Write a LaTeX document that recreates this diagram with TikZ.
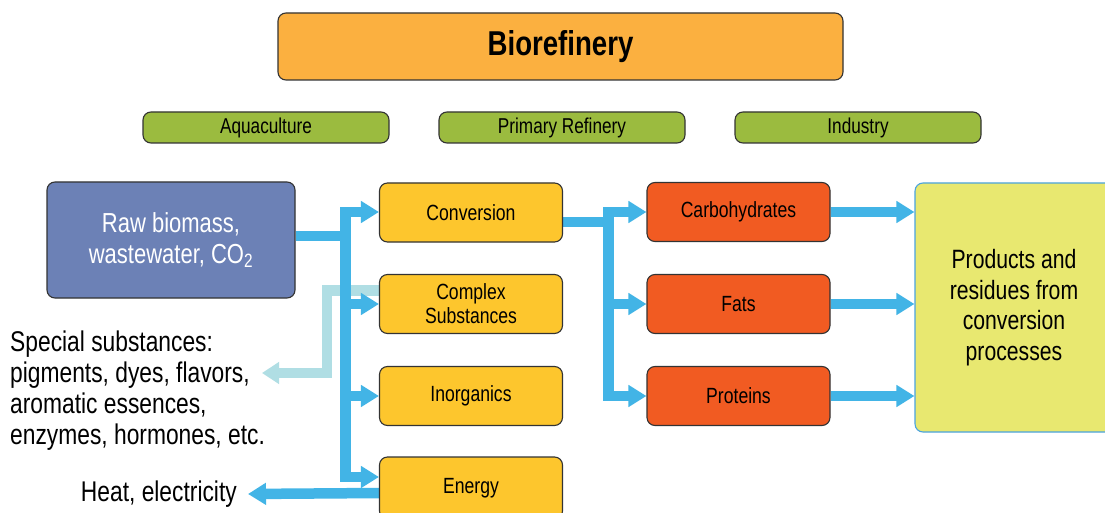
\documentclass[tikz,border=0pt]{standalone}
\usepackage{fontspec}
\setmainfont{Liberation Sans}[FakeStretch=0.8]
\usetikzlibrary{arrows.meta}
\pgfdeclarelayer{bg}
\pgfsetlayers{bg,main}
\definecolor{cbio}{HTML}{FBB040}
\definecolor{cgreen}{HTML}{9BBB3F}
\definecolor{craw}{HTML}{6C81B6}
\definecolor{cyel}{HTML}{FDC62D}
\definecolor{cred}{HTML}{F15B22}
\definecolor{cprod}{HTML}{E8E870}
\definecolor{cprodb}{HTML}{4AA3DF}
\definecolor{cflow}{HTML}{42B4E6}
\definecolor{clight}{HTML}{B0DEE4}
\definecolor{cedge}{HTML}{333333}
\tikzset{
  box/.style={draw=cedge, line width=1.1pt, rounded corners=8pt, inner sep=0pt, align=center, text=black},
  biobox/.style={box, fill=cbio, minimum width=565pt, minimum height=67pt, font=\fontsize{34.5}{40}\selectfont\bfseries},
  greenbox/.style={box, fill=cgreen, minimum width=246pt, minimum height=31pt, font=\fontsize{21.5}{25}\selectfont},
  yelbox/.style={box, fill=cyel, minimum width=183pt, minimum height=59pt, font=\fontsize{22}{24}\selectfont},
  redbox/.style={box, fill=cred, minimum width=183pt, minimum height=59pt, font=\fontsize{22}{24}\selectfont},
  rawbox/.style={box, fill=craw, text=white, minimum width=248pt, minimum height=116pt, font=\fontsize{27.5}{31}\selectfont},
  prodbox/.style={box, draw=cprodb, fill=cprod, minimum width=198pt, minimum height=249pt, font=\fontsize{26.5}{30.5}\selectfont},
  sidetext/.style={inner sep=0pt, align=left, font=\fontsize{28.5}{31}\selectfont},
  flowline/.style={draw=cflow, line width=10.5pt, line join=miter},
  flow/.style={flowline, -{Triangle[length=18pt,width=21pt]}},
  flowboth/.style={flowline, {Triangle[length=18pt,width=21pt]}-{Triangle[length=18pt,width=21pt]}},
  lightflow/.style={draw=clight, line width=10.5pt, line join=miter, -{Triangle[length=17pt,width=21pt]}},
}
\begin{document}
\begin{tikzpicture}[x=1pt,y=-1pt]
\clip (0,0) rectangle (1105,513);

% junction coordinates
\coordinate (lt) at (345.5,212);
\coordinate (lb) at (345.5,477);
\coordinate (lj) at (345.5,236);
\coordinate (rt) at (608.5,212);
\coordinate (rj) at (608.5,222);
\coordinate (lu) at (327,290.5);
\coordinate (lc) at (327,373);
\coordinate (stip) at (262,373);

% nodes
\node[biobox] (bio) at (560.5,46.5) {Biorefinery};
\node[greenbox] (aqua) at (266,127.5) {Aquaculture};
\node[greenbox] (prim) at (562,127.5) {Primary Refinery};
\node[greenbox] (ind) at (858,127.5) {Industry};

\node[rawbox] (raw) at (171,240) {Raw biomass,\\wastewater, CO\textsubscript{2}};

\node[sidetext, anchor=west] (spec) at (10,391) {Special substances:\\pigments, dyes, flavors,\\aromatic essences,\\enzymes, hormones, etc.};
\node[sidetext, anchor=east] (heat) at (237,494) {Heat, electricity};

\node[yelbox] (conv) at (471,212.5) {Conversion};
\node[yelbox] (comp) at (471,304) {Complex\\Substances};
\node[yelbox] (inorg) at (471,396) {Inorganics};
\node[yelbox, minimum height=62pt] (energy) at (471,488) {Energy};

\node[redbox] (carb) at (738.5,212) {Carbohydrates};
\node[redbox] (fats) at (738.5,304) {Fats};
\node[redbox] (prot) at (738.5,396) {Proteins};

\node[prodbox] (prod) at (1014,307.5) {Products and\\residues from\\conversion\\processes};

\begin{pgfonlayer}{bg}
\fill[white] (0,0) rectangle (1105,513);
% light flow (behind trunk)
\draw[lightflow] (comp.west |- lu) -- (lu) -- (lc) -- (stip);
% left trunk
\draw[flowline] (raw.east |- lj) -- (lj);
\draw[flowboth] (energy.west |- lb) -- (lb) -- (lt) -- (conv.west |- lt);
\draw[flow] (lt |- comp.west) -- (comp.west);
\draw[flow] (lt |- inorg.west) -- (inorg.west);
\draw[flow] ([yshift=-5pt]energy.west) -- ([xshift=11pt]heat.east);
% right trunk
\draw[flowline] (conv.east |- rj) -- (rj);
\draw[flowboth] (prot.west) -- (rt |- prot.west) -- (rt) -- (carb.west);
\draw[flow] (rt |- fats.west) -- (fats.west);
% right arrows
\draw[flow] (carb.east) -- (carb.east -| prod.west);
\draw[flow] (fats.east) -- (fats.east -| prod.west);
\draw[flow] (prot.east) -- (prot.east -| prod.west);
\end{pgfonlayer}
\end{tikzpicture}
\end{document}
